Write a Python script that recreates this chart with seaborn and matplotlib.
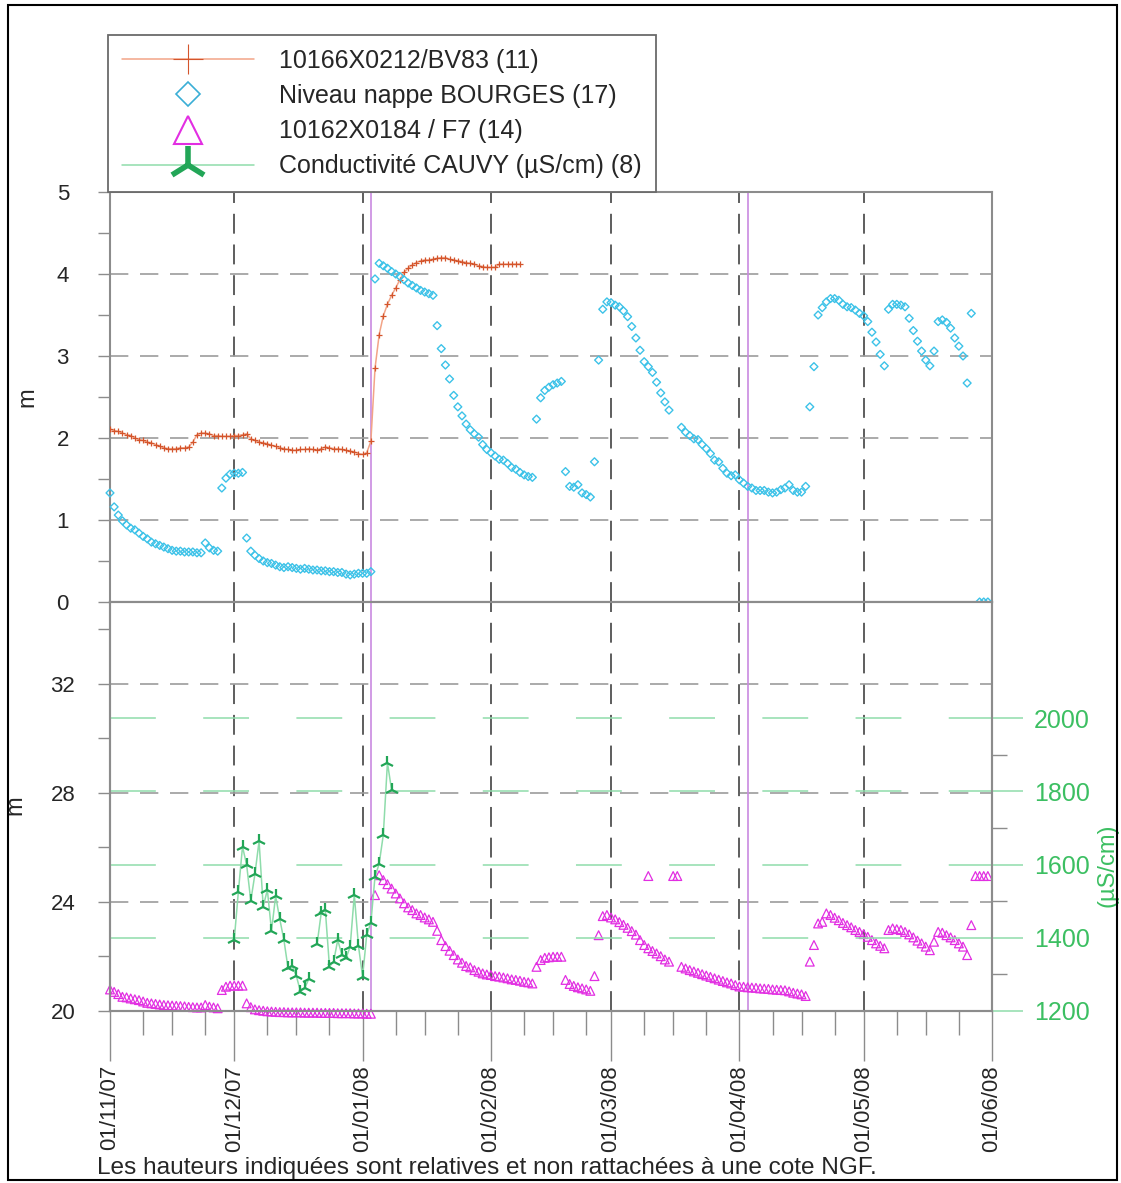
"""Groundwater levels and conductivity, Nov 2007 - Jun 2008 (two stacked panels)."""
import matplotlib

matplotlib.use("Agg")
import matplotlib.dates as mdates
import matplotlib.pyplot as plt
import numpy as np
import pandas as pd
import seaborn as sns
from matplotlib.lines import Line2D
from matplotlib.patches import Rectangle
from matplotlib.ticker import FixedLocator

sns.set_theme(style="white")
plt.rcParams["font.family"] = ["Liberation Sans", "DejaVu Sans"]

# ---------------------------------------------------------------- data
START = pd.Timestamp("2007-11-01")
END = pd.Timestamp("2008-06-01")

# 10166X0212/BV83, daily from 01/11/07 (m)
bv83_vals = [
    2.11, 2.09, 2.08, 2.06, 2.04, 2.03, 2.00, 1.98, 1.97, 1.95,
    1.94, 1.92, 1.90, 1.88, 1.87, 1.87, 1.87, 1.88, 1.88, 1.89,
    1.95, 2.04, 2.06, 2.06, 2.05, 2.03, 2.03, 2.02, 2.02, 2.02,
    2.03, 2.03, 2.04, 2.05, 1.99, 1.97, 1.95, 1.94, 1.93, 1.91,
    1.90, 1.88, 1.87, 1.86, 1.85, 1.85, 1.86, 1.86, 1.87, 1.86,
    1.85, 1.87, 1.89, 1.88, 1.87, 1.87, 1.86, 1.85, 1.84, 1.83,
    1.81, 1.80, 1.82, 1.96, 2.85, 3.26, 3.49, 3.63, 3.74, 3.83,
    3.93, 4.02, 4.07, 4.11, 4.14, 4.16, 4.17, 4.17, 4.18, 4.19,
    4.20, 4.20, 4.18, 4.17, 4.16, 4.15, 4.14, 4.13, 4.12, 4.10,
    4.09, 4.08, 4.08, 4.08, 4.12, 4.12, 4.12, 4.12, 4.12, 4.12,
]

# Niveau nappe BOURGES, daily from 01/11/07 (m), None = no reading
bourges_vals = [
    1.33, 1.16, 1.06, 0.99, 0.94, 0.90, 0.88, 0.84, 0.80, 0.77,
    0.73, 0.71, 0.69, 0.67, 0.65, 0.63, 0.62, 0.62, 0.61, 0.61,
    0.61, 0.60, 0.60, 0.72, 0.66, 0.63, 0.62, 1.39, 1.51, 1.56,
    1.57, 1.57, 1.58, 0.78, 0.62, 0.57, 0.53, 0.50, 0.48, 0.47,
    0.45, 0.43, 0.42, 0.43, 0.42, 0.41, 0.40, 0.41, 0.40, 0.39,
    0.39, 0.38, 0.38, 0.37, 0.37, 0.36, 0.36, 0.34, 0.33, 0.34,
    0.35, 0.35, 0.35, 0.37, 3.94, 4.13, 4.10, 4.07, 4.03, 4.00,
    3.97, 3.93, 3.89, 3.86, 3.83, 3.80, 3.78, 3.76, 3.74, 3.37,
    3.09, 2.89, 2.72, 2.52, 2.38, 2.27, 2.17, 2.10, 2.05, 2.01,
    1.92, 1.86, 1.82, 1.78, 1.74, 1.73, 1.69, 1.64, 1.62, 1.58,
    1.55, 1.53, 1.52, 2.23, 2.49, 2.58, 2.62, 2.65, 2.67, 2.69,
    1.59, 1.41, 1.40, 1.43, 1.33, 1.31, 1.28, 1.71, 2.95, 3.57,
    3.66, 3.65, 3.62, 3.60, 3.55, 3.48, 3.36, 3.22, 3.07, 2.93,
    2.87, 2.80, 2.68, 2.55, 2.44, 2.34, None, None, 2.13, 2.07,
    2.03, 1.99, 1.98, 1.92, 1.87, 1.81, 1.73, 1.71, 1.63, 1.57,
    1.54, 1.55, 1.49, 1.45, 1.41, 1.39, 1.36, 1.36, 1.36, 1.34,
    1.33, 1.34, 1.37, 1.39, 1.43, 1.36, 1.34, 1.34, 1.41, 2.38,
    2.87, 3.50, 3.59, 3.66, 3.70, 3.70, 3.68, 3.63, 3.60, 3.59,
    3.56, 3.52, 3.49, 3.42, 3.29, 3.17, 3.02, 2.88, 3.57, 3.63,
    3.63, 3.62, 3.60, 3.46, 3.31, 3.18, 3.06, 2.95, 2.88, 3.06,
    3.42, 3.44, 3.41, 3.34, 3.22, 3.12, 3.00, 2.67, 3.52, None,
    0.0, 0.0, 0.0,
]

# 10162X0184 / F7, daily from 01/11/07 (m)
f7_vals = [
    20.79, 20.70, 20.62, 20.52, 20.50, 20.46, 20.43, 20.40, 20.35, 20.30,
    20.28, 20.26, 20.24, 20.22, 20.21, 20.20, 20.19, 20.18, 20.17, 20.15,
    20.14, 20.13, 20.13, 20.22, 20.16, 20.13, 20.10, 20.77, 20.89, 20.93,
    20.93, 20.93, 20.93, 20.28, 20.14, 20.06, 20.03, 20.01, 19.99, 19.98,
    19.97, 19.96, 19.96, 19.95, 19.95, 19.95, 19.95, 19.94, 19.94, 19.94,
    19.94, 19.93, 19.93, 19.93, 19.93, 19.92, 19.92, 19.92, 19.92, 19.91,
    19.91, 19.91, 19.90, 19.90, 24.25, 24.98, 24.80, 24.65, 24.49, 24.31,
    24.13, 23.95, 23.80, 23.70, 23.58, 23.52, 23.43, 23.36, 23.27, 22.94,
    22.60, 22.38, 22.21, 22.05, 21.89, 21.77, 21.65, 21.60, 21.50, 21.44,
    21.38, 21.34, 21.32, 21.28, 21.26, 21.23, 21.20, 21.16, 21.14, 21.11,
    21.07, 21.05, 21.01, 21.62, 21.87, 21.95, 21.97, 21.99, 21.99, 21.99,
    21.14, 20.99, 20.92, 20.87, 20.83, 20.79, 20.74, 21.28, 22.78, 23.48,
    23.52, 23.43, 23.36, 23.26, 23.16, 23.05, 22.93, 22.80, 22.60, 22.42,
    22.30, 22.20, 22.11, 22.01, 21.89, 21.81, 24.95, 24.95, 21.62, 21.56,
    21.50, 21.45, 21.40, 21.35, 21.30, 21.25, 21.20, 21.15, 21.10, 21.05,
    21.01, 20.95, 20.90, 20.89, 20.87, 20.86, 20.85, 20.83, 20.82, 20.81,
    20.79, 20.78, 20.77, 20.76, 20.72, 20.67, 20.64, 20.61, 20.55, 21.81,
    22.42, 23.21, 23.27, 23.58, 23.52, 23.42, 23.33, 23.23, 23.15, 23.07,
    22.97, 22.90, 22.82, 22.72, 22.60, 22.48, 22.39, 22.30, 22.97, 23.03,
    23.00, 22.97, 22.90, 22.81, 22.70, 22.58, 22.48, 22.36, 22.23, 22.54,
    22.90, 22.87, 22.78, 22.70, 22.60, 22.48, 22.36, 22.05, 23.15, 24.95,
    24.95, 24.95, 24.95,
]
f7_extra_days = [130]
f7_extra_vals = [24.95]

# Conductivité CAUVY (µS/cm), daily from 01/12/07 (day 30)
cauvy_start = 30
cauvy_vals = [
    1394, 1526, 1649, 1599, 1501, 1574, 1664, 1485, 1531, 1419,
    1514, 1451, 1394, 1317, 1323, 1296, 1253, 1262, 1287, None,
    1382, 1467, 1476, 1321, 1335, 1394, 1353, 1344, 1376, 1517,
    1378, 1294, 1408, 1441, 1567, 1602, 1681, 1878, 1804,
]

event_dates = ["2008-01-03", "2008-04-03"]

series_labels = [
    "10166X0212/BV83 (11)",
    "Niveau nappe BOURGES (17)",
    "10162X0184 / F7 (14)",
    "Conductivité CAUVY (µS/cm) (8)",
]
footer = "Les hauteurs indiquées sont relatives et non rattachées à une cote NGF."

# ---------------------------------------------------------------- colours
C_ORANGE_LINE = "#f2a487"
C_ORANGE_MK = "#d4552c"
C_BLUE = "#3cc2e8"
C_MAGENTA = "#e22ee2"
C_GREEN_LINE = "#8fdcab"
C_GREEN_MK = "#22a657"
C_GREEN_TXT = "#3cbf62"
C_PURPLE = "#c98ae0"
C_SPINE = "#8c8c8c"


def daily_frame(values, offset=0):
    v = np.array([np.nan if x is None else x for x in values], dtype=float)
    d = START + pd.to_timedelta(np.arange(len(v)) + offset, unit="D")
    return pd.DataFrame({"date": d, "val": v})


bv83 = daily_frame(bv83_vals)
bourges = daily_frame(bourges_vals)
f7 = daily_frame(f7_vals)
f7_extra = pd.DataFrame({"date": START + pd.to_timedelta(f7_extra_days, unit="D"),
                         "val": f7_extra_vals})
cauvy = daily_frame(cauvy_vals, cauvy_start)
cauvy["seg"] = cauvy["val"].isna().cumsum()
cauvy = cauvy.dropna()

# ---------------------------------------------------------------- figure
W, H = 1121, 1183
fig = plt.figure(figsize=(W / 100, H / 100), dpi=100)
L, R = 110 / W, 992 / W
ax_top = fig.add_axes([L, 1 - 602 / H, R - L, 410 / H])
ax_bot = fig.add_axes([L, 1 - 1011 / H, R - L, 409 / H], sharex=ax_top)
ax_r = ax_bot.twinx()

# --- top panel: levels in m
sns.lineplot(data=bv83, x="date", y="val", ax=ax_top, color=C_ORANGE_LINE, lw=1.1,
             marker="+", markersize=4, markeredgecolor=C_ORANGE_MK,
             markeredgewidth=0.9, zorder=3)
sns.scatterplot(data=bourges, x="date", y="val", ax=ax_top, marker="D", s=16,
                color=C_BLUE, facecolor="none", edgecolor=C_BLUE, linewidth=1.0,
                clip_on=False, zorder=4)

# --- bottom panel: F7 (m) and conductivity (right axis)
sns.scatterplot(data=f7, x="date", y="val", ax=ax_bot, marker="^", s=40,
                color=C_MAGENTA, facecolor="none", edgecolor=C_MAGENTA,
                linewidth=0.9, clip_on=False, zorder=4)
sns.scatterplot(data=f7_extra, x="date", y="val", ax=ax_bot, marker="^", s=40,
                color=C_MAGENTA, facecolor="none", edgecolor=C_MAGENTA,
                linewidth=0.9, zorder=4)
sns.lineplot(data=cauvy, x="date", y="val", units="seg", estimator=None, ax=ax_r,
             color=C_GREEN_LINE, lw=1.1, marker="2", markersize=10,
             markeredgecolor=C_GREEN_MK, markeredgewidth=1.6, zorder=3)

for ax in (ax_top, ax_bot):
    for d in event_dates:
        ax.axvline(pd.Timestamp(d), color=C_PURPLE, lw=1.2, zorder=2)

# ---------------------------------------------------------------- axes styling
ax_top.set_xlim(START, END)
ax_top.set_ylim(0, 5)
ax_bot.set_ylim(20, 35)
ax_r.set_ylim(1200, 2317)

month_loc = mdates.MonthLocator()
ax_bot.xaxis.set_major_locator(month_loc)
ax_bot.xaxis.set_minor_locator(mdates.DayLocator(bymonthday=[9, 16, 24]))
ax_bot.xaxis.set_major_formatter(mdates.DateFormatter("%d/%m/%y"))

ax_top.yaxis.set_major_locator(FixedLocator([0, 1, 2, 3, 4, 5]))
ax_top.yaxis.set_minor_locator(FixedLocator([0.5, 1.5, 2.5, 3.5, 4.5]))
ax_bot.yaxis.set_major_locator(FixedLocator([20, 24, 28, 32]))
ax_bot.yaxis.set_minor_locator(FixedLocator([22, 26, 30, 34]))
ax_r.yaxis.set_major_locator(FixedLocator([1200, 1400, 1600, 1800, 2000]))
ax_r.yaxis.set_minor_locator(FixedLocator([1300, 1500, 1700, 1900]))

gray_dash = (0, (11, 7))
ax_top.yaxis.grid(True, color="#9c9c9c", lw=1.2, ls=gray_dash)
ax_bot.yaxis.grid(True, color="#9c9c9c", lw=1.2, ls=gray_dash)
ax_r.yaxis.grid(True, color=C_GREEN_LINE, lw=1.1, ls=(0, (30, 31)))
for ax in (ax_top, ax_bot):
    ax.xaxis.grid(True, color="#505050", lw=1.3, ls=(0, (11, 6)))
    ax.set_axisbelow(True)

for ax in (ax_top, ax_bot, ax_r):
    for sp in ax.spines.values():
        sp.set_color(C_SPINE)
        sp.set_linewidth(1.5)
    ax.set_xlabel("")

ax_top.tick_params(axis="x", which="both", bottom=False, labelbottom=False)
for ax in (ax_top, ax_bot):
    ax.tick_params(axis="y", which="both", direction="out", length=9, width=1,
                   color=C_SPINE, left=True, labelsize=16, pad=25)
    plt.setp(ax.get_yticklabels(), ha="center")
ax_bot.tick_params(axis="x", which="major", direction="out", length=36, width=1,
                   color=C_SPINE, bottom=True, labelsize=16, labelrotation=90, pad=3)
ax_bot.tick_params(axis="x", which="minor", direction="out", length=17, width=1,
                   color=C_SPINE, bottom=True)
ax_r.tick_params(axis="y", which="major", direction="out", length=22, width=1.1,
                 color=C_GREEN_LINE, right=True, labelsize=18,
                 labelcolor=C_GREEN_TXT, pad=8)
ax_r.tick_params(axis="y", which="minor", direction="out", length=11, width=1,
                 color=C_SPINE, right=True)

ax_top.set_ylabel("m", fontsize=17)
ax_top.yaxis.set_label_coords((38 - 110) / 882, 0.5)
ax_bot.set_ylabel("m", fontsize=17)
ax_bot.yaxis.set_label_coords((26 - 110) / 882, (1011 - 805) / 409)
ax_r.set_ylabel("(µS/cm)", fontsize=17, color=C_GREEN_TXT)
ax_r.yaxis.set_label_coords((1096 - 110) / 882, (1011 - 865) / 409)

# ---------------------------------------------------------------- legend
handles = [
    Line2D([], [], color=C_ORANGE_LINE, lw=1.1, marker="+", markersize=21,
           markeredgecolor=C_ORANGE_MK, markeredgewidth=0.8),
    Line2D([], [], ls="none", marker="D", markersize=12, markerfacecolor="none",
           markeredgecolor="#3aaed6", markeredgewidth=1.2),
    Line2D([], [], ls="none", marker="^", markersize=20, markerfacecolor="none",
           markeredgecolor=C_MAGENTA, markeredgewidth=1.5),
    Line2D([], [], color=C_GREEN_LINE, lw=1.1, marker="2", markersize=28,
           markeredgecolor=C_GREEN_MK, markeredgewidth=4),
]
leg = fig.legend(handles, series_labels, loc="upper left",
                 bbox_to_anchor=(108 / W, 1 - 35 / H), fontsize=18,
                 frameon=True, fancybox=False, edgecolor="#6a6a6a", framealpha=1,
                 handlelength=5.3, handletextpad=1.0, borderpad=0.55,
                 labelspacing=0.45, borderaxespad=0)
leg.get_frame().set_linewidth(1.3)

# ---------------------------------------------------------------- footer / frame
fig.text(97 / W, 1 - 1168 / H, footer, fontsize=17.6, va="center", ha="left")
fig.add_artist(Rectangle((8 / W, 1 - 1180 / H), (1117 - 8) / W, (1180 - 5) / H,
                         transform=fig.transFigure, fill=False, lw=1.5,
                         ec="black"))

fig.savefig("out.png", dpi=100)
plt.close(fig)
